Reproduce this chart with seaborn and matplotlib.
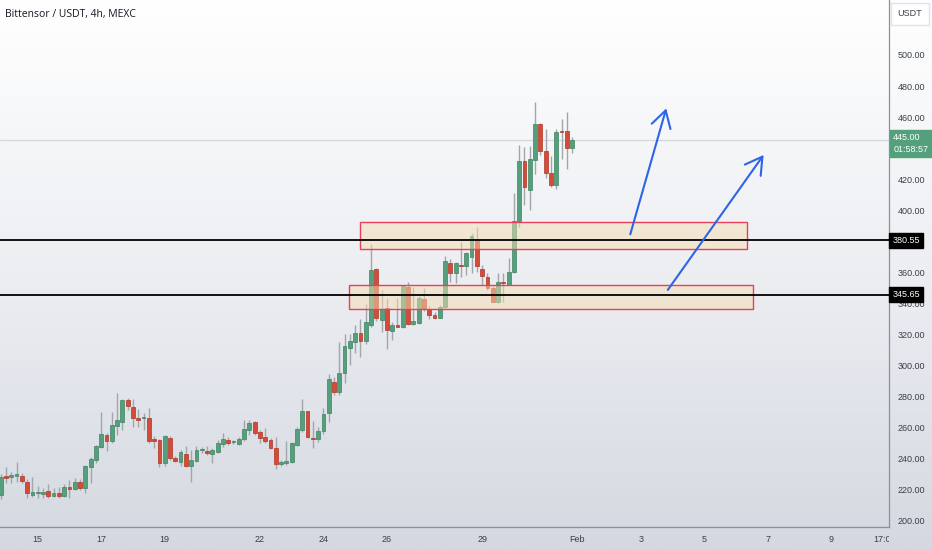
import numpy as np
import pandas as pd
import matplotlib
matplotlib.use('Agg')
import matplotlib.pyplot as plt
import matplotlib.transforms as mtransforms
from matplotlib.patches import Rectangle
import seaborn as sns

# 4h candles, Bittensor / USDT
opens = [216.6, 228.8, 228.4, 229.0, 228.6, 225.2, 216.6, 218.0, 217.5, 219.4,
         216.0, 218.0, 216.2, 222.0, 220.7, 225.0, 220.9, 234.8, 239.1, 247.3,
         255.2, 251.4, 261.2, 263.8, 277.8, 273.5, 266.2, 266.2, 266.2, 252.4,
         252.0, 237.4, 253.5, 240.6, 237.6, 243.2, 235.5, 238.5, 245.3, 244.9,
         243.0, 244.1, 249.4, 252.2, 250.5, 249.7, 252.7, 258.7, 263.8, 257.0,
         253.7, 252.0, 247.1, 236.8, 237.0, 238.1, 248.8, 258.5, 270.7, 253.5,
         252.4, 257.6, 269.6, 289.4, 283.1, 295.4, 311.1, 315.4, 320.7, 316.0,
         326.1, 361.9, 329.3, 336.8, 322.4, 326.1, 324.6, 350.4, 326.5, 327.2,
         343.0, 336.2, 332.5, 330.8, 337.5, 365.8, 359.4, 364.7, 364.1, 370.1,
         380.8, 361.9, 357.2, 350.0, 341.0, 353.8, 352.0, 360.5, 393.3, 431.7,
         413.1, 432.4, 455.6, 438.4, 424.2, 416.3, 450.8, 450.8, 440.3]
highs = [230.0, 234.8, 231.6, 238.0, 231.0, 227.1, 228.0, 222.4, 220.9, 223.7,
         220.9, 222.0, 223.7, 226.3, 227.3, 227.1, 235.9, 241.3, 248.8, 269.8,
         256.7, 269.8, 282.1, 278.2, 278.9, 278.2, 271.8, 269.2, 272.4, 254.6,
         252.4, 255.2, 254.6, 241.7, 245.6, 248.2, 245.6, 248.2, 247.7, 248.4,
         246.6, 252.0, 256.3, 254.2, 252.0, 253.7, 264.9, 264.9, 264.5, 258.5,
         259.5, 253.1, 253.7, 239.1, 251.4, 250.9, 260.6, 278.4, 270.9, 264.3,
         260.6, 272.4, 294.5, 292.8, 315.4, 320.3, 320.3, 326.1, 329.7, 339.6,
         378.3, 362.6, 348.6, 343.3, 328.2, 343.3, 351.9, 354.0, 350.4, 345.0,
         349.7, 338.0, 334.7, 339.0, 370.5, 368.4, 366.9, 379.8, 373.3, 385.1,
         389.4, 364.7, 359.6, 351.2, 359.8, 359.8, 369.0, 411.3, 442.0, 440.5,
         441.4, 470.0, 456.4, 452.1, 435.2, 452.1, 458.6, 463.1, 447.4]
lows = [214.0, 224.1, 224.1, 225.2, 224.1, 214.4, 215.5, 214.4, 214.4, 214.4,
        215.5, 214.4, 215.5, 214.4, 219.8, 219.8, 217.7, 224.1, 237.0, 246.6,
        245.2, 249.9, 255.2, 258.4, 271.3, 260.6, 260.6, 258.4, 249.9, 246.6,
        234.8, 235.3, 239.1, 237.8, 235.0, 234.4, 225.2, 238.0, 243.8, 242.4,
        237.0, 243.4, 247.7, 248.8, 249.2, 248.8, 251.6, 255.2, 255.2, 249.9,
        249.9, 246.0, 233.1, 235.3, 235.9, 236.9, 248.2, 257.4, 253.1, 246.6,
        251.0, 255.9, 263.8, 281.0, 281.0, 288.5, 300.3, 307.8, 305.3, 313.9,
        325.0, 328.9, 321.8, 310.4, 316.4, 324.6, 324.0, 326.1, 326.1, 326.8,
        335.3, 329.7, 330.2, 330.4, 336.8, 354.0, 353.4, 357.2, 358.3, 359.4,
        360.4, 351.9, 348.6, 340.8, 340.5, 341.1, 351.6, 359.8, 389.4, 403.4,
        400.2, 423.4, 435.6, 420.6, 415.2, 413.5, 432.8, 426.6, 436.7]
closes = [228.4, 227.5, 229.7, 230.1, 225.8, 217.7, 218.5, 218.6, 217.9, 216.0,
          217.7, 216.2, 221.5, 220.7, 224.7, 221.3, 235.5, 239.6, 248.2, 255.9,
          251.2, 261.7, 264.9, 277.8, 274.1, 266.0, 265.1, 266.5, 251.6, 251.6,
          237.4, 254.6, 240.2, 238.5, 244.3, 235.3, 239.1, 245.6, 245.6, 243.4,
          245.6, 249.9, 252.4, 250.3, 250.7, 252.9, 259.3, 263.2, 256.3, 253.1,
          251.4, 246.6, 236.5, 237.4, 238.7, 249.9, 258.9, 270.7, 253.7, 252.4,
          258.0, 268.8, 291.1, 283.1, 295.4, 312.6, 315.8, 320.7, 316.0, 327.8,
          361.5, 330.4, 336.4, 322.9, 326.1, 325.0, 351.2, 326.5, 328.7, 343.3,
          336.2, 332.3, 330.8, 337.5, 367.5, 359.4, 365.8, 364.1, 372.3, 383.4,
          364.1, 357.9, 350.1, 341.0, 354.0, 352.9, 360.5, 393.3, 431.7, 414.8,
          433.0, 455.6, 438.4, 423.8, 416.3, 450.6, 450.2, 440.3, 445.0]

first_bar = '2025-01-13 21:00'
tick_dates = ['2025-01-15 01:00', '2025-01-17 01:00', '2025-01-19 01:00', '2025-01-22 01:00',
              '2025-01-24 01:00', '2025-01-26 01:00', '2025-01-29 01:00', '2025-02-01 01:00',
              '2025-02-03 01:00', '2025-02-05 01:00', '2025-02-07 01:00', '2025-02-09 01:00',
              '2025-02-10 17:00']
tick_text = ['15', '17', '19', '22', '24', '26', '29', 'Feb', '3', '5', '7', '9', '17:00']
# 440 and 380 sit under the price labels on the original scale
price_ticks = [200, 220, 240, 260, 280, 300, 320, 340, 360, 400, 420, 460, 480, 500]

# drawn levels / zones / arrows (bar index, price)
levels = [380.55, 345.65]
zones = [(68.0, 141.1, 374.9, 392.2), (65.9, 142.2, 336.2, 351.8)]
arrows = [((119.0, 384.5), (125.8, 465.6)), ((126.1, 348.7), (144.2, 435.6))]
countdown = '01:58:57'

df = pd.DataFrame({'open': opens, 'high': highs, 'low': lows, 'close': closes})
df['time'] = pd.date_range(first_bar, periods=len(df), freq='4h')
df['i'] = np.arange(len(df))
df['up'] = df['close'] >= df['open']
t0 = pd.Timestamp(first_bar)
tick_pos = [(pd.Timestamp(d) - t0) / pd.Timedelta('4h') for d in tick_dates]

sns.set_style('white')
plt.rcParams['font.family'] = ['Liberation Sans', 'DejaVu Sans']

green, red = '#55a07c', '#d64a38'
fig = plt.figure(figsize=(9.32, 5.5), dpi=100)

# background gradient
bg = fig.add_axes([0, 0, 1, 1], zorder=-10)
grad = np.linspace(0, 1, 256)[:, None]
cmap = matplotlib.colors.LinearSegmentedColormap.from_list('bg', ['#ffffff', '#eceef2', '#d4d8e0'])
bg.imshow(grad, aspect='auto', cmap=cmap, extent=[0, 1, 0, 1])
bg.axis('off')

ax = fig.add_axes([0, 23 / 550, 889 / 932, 527 / 550])
ax.set_facecolor('none')

# candles
ax.vlines(df['i'], df['low'], df['high'], color='#a2a5aa', lw=1, zorder=2)
body = (df['close'] - df['open']).abs().clip(lower=0.8)
bottom = df[['open', 'close']].min(axis=1)
cols = np.where(df['up'], green, red)
edges = np.where(df['up'], '#3f8262', '#ad3626')
ax.bar(df['i'], body, bottom=bottom, width=0.72, color=cols, edgecolor=edges, lw=0.5, zorder=3)

last = closes[-1]
ax.axhline(last, color='#d3d6dd', lw=0.9, zorder=1)

for lv in levels:
    ax.axhline(lv, color='black', lw=1.3, zorder=5)

for x0, x1, y0, y1 in zones:
    ax.add_patch(Rectangle((x0, y0), x1 - x0, y1 - y0, facecolor='#f5deb3', alpha=0.5,
                           edgecolor='none', zorder=4))
    ax.add_patch(Rectangle((x0, y0), x1 - x0, y1 - y0, facecolor='none',
                           edgecolor='#e8405a', lw=1, zorder=4))

for start, end in arrows:
    ax.annotate('', xy=end, xytext=start,
                arrowprops=dict(arrowstyle='->,head_length=0.6,head_width=0.35',
                                color='#2e64e6', lw=1.5, mutation_scale=20,
                                shrinkA=0, shrinkB=0), zorder=6)

ax.set_xlim(-0.13, 167.9)
ax.set_ylim(195.97, 535.4)

ax.yaxis.tick_right()
ax.set_yticks(price_ticks)
ax.set_yticklabels([f'{p:.2f}' for p in price_ticks])
ax.set_xticks(tick_pos)
ax.set_xticklabels(tick_text)
ax.tick_params(axis='both', length=0, labelsize=6.5, colors='#3a3e47')
ax.tick_params(axis='y', pad=6)
ax.tick_params(axis='x', pad=6)
clip = mtransforms.TransformedBbox(mtransforms.Bbox([[0, 0], [889 / 932, 1]]), fig.transFigure)
xl = ax.get_xticklabels()[-1]
xl.set_clip_on(True)
xl.set_clip_box(clip)

for side in ['top', 'left']:
    ax.spines[side].set_visible(False)
for side in ['right', 'bottom']:
    ax.spines[side].set_color('#8c9099')
    ax.spines[side].set_linewidth(0.9)

blend = mtransforms.blended_transform_factory(ax.transAxes, ax.transData)
for lv in levels:
    ax.text(1.004, lv, f'{lv:.2f}', transform=blend, ha='left', va='center', fontsize=6.5,
            color='white', clip_on=False, zorder=10,
            bbox=dict(boxstyle='square,pad=0.35', facecolor='black', edgecolor='black'))

ax.annotate(f'{last:.2f}\n{countdown}', xy=(1.0, last), xycoords=blend,
            xytext=(3, 5), textcoords='offset points', ha='left', va='top',
            fontsize=6.5, color='white', linespacing=1.3, annotation_clip=False, zorder=10,
            bbox=dict(boxstyle='square,pad=0.35', facecolor=green, edgecolor=green))

ax.text(0.006, 1 - 14 / 527, 'Bittensor / USDT, 4h, MEXC', transform=ax.transAxes,
        ha='left', va='center', fontsize=7.5, color='#131722', family=['Open Sans', 'DejaVu Sans'])

fig.text(910 / 932, 1 - 14 / 550, 'USDT', ha='center', va='center', fontsize=6.5, color='#3a3e47',
         bbox=dict(boxstyle='square,pad=0.7', facecolor='white', edgecolor='#e0e3eb'))

fig.savefig('out.png', dpi=100)
